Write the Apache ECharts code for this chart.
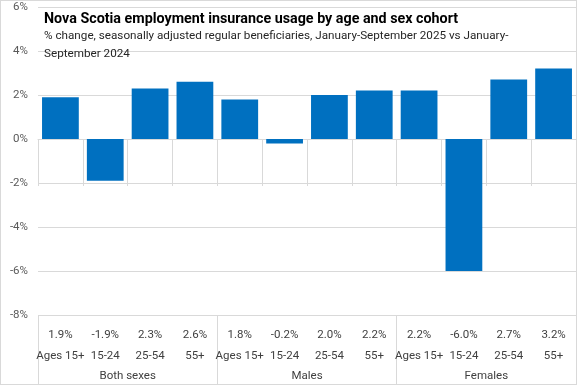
<!DOCTYPE html>
<html>
<head>
<meta charset="utf-8">
<script src="https://cdn.jsdelivr.net/npm/echarts@6/dist/echarts.min.js"></script>
<style>
html,body{margin:0;padding:0;background:#fff;}
#c{width:575px;height:383px;border:1px solid #d9d9d9;}
</style>
</head>
<body>
<div id="c"></div>
<script>
const ageLabels = ['Ages 15+','15-24','25-54','55+','Ages 15+','15-24','25-54','55+','Ages 15+','15-24','25-54','55+'];
const values = [1.9, -1.9, 2.3, 2.6, 1.8, -0.2, 2.0, 2.2, 2.2, -6.0, 2.7, 3.2];
const groups = ['Both sexes','Males','Females'];
const yTicks = {min: -8, max: 6, interval: 2};

const FONT = '"Roboto", sans-serif';
const chart = echarts.init(document.getElementById('c'));
chart.setOption({
  animation: false,
  title: {
    text: 'Nova Scotia employment insurance usage by age and sex cohort',
    subtext: '% change, seasonally adjusted regular beneficiaries, January-September 2025 vs January-\nSeptember 2024',
    left: 38, top: 6,
    itemGap: 1,
    textStyle: {fontFamily: FONT, fontSize: 14.3, fontWeight: 'bold', color: '#000'},
    subtextStyle: {fontFamily: FONT, fontSize: 11.7, color: '#262626', lineHeight: 18}
  },
  grid: {left: 37, right: 0, top: 6, bottom: 69, containLabel: false},
  xAxis: [{
    type: 'category',
    data: ageLabels.map((l, i) => i),
    position: 'bottom',
    axisLine: {show: true, lineStyle: {color: '#d9d9d9'}},
    axisTick: {show: true, interval: 0, length: 47, lineStyle: {color: '#d9d9d9'}},
    axisLabel: {
      interval: 0, margin: 10, lineHeight: 21, fontSize: 11.5, fontFamily: FONT, color: '#404040',
      formatter: (v, i) => values[i].toFixed(1) + '%\n' + ageLabels[i]
    }
  }, {
    type: 'category',
    data: groups,
    position: 'bottom',
    offset: 0,
    axisLine: {show: false},
    axisTick: {show: true, interval: 0, length: 70, lineStyle: {color: '#d9d9d9'}},
    axisLabel: {interval: 0, margin: 55, fontSize: 11.5, fontFamily: FONT, color: '#404040'}
  }],
  yAxis: {
    type: 'value',
    min: yTicks.min, max: yTicks.max, interval: yTicks.interval,
    axisLine: {show: false}, axisTick: {show: false},
    axisLabel: {formatter: '{value}%', margin: 10, fontSize: 11.5, fontFamily: FONT, color: '#595959'},
    splitLine: {lineStyle: {color: '#d9d9d9'}}
  },
  series: [{
    type: 'bar',
    xAxisIndex: 0,
    data: values,
    barCategoryGap: '18%',
    itemStyle: {color: '#0070C0'}
  }]
});
</script>
</body>
</html>
